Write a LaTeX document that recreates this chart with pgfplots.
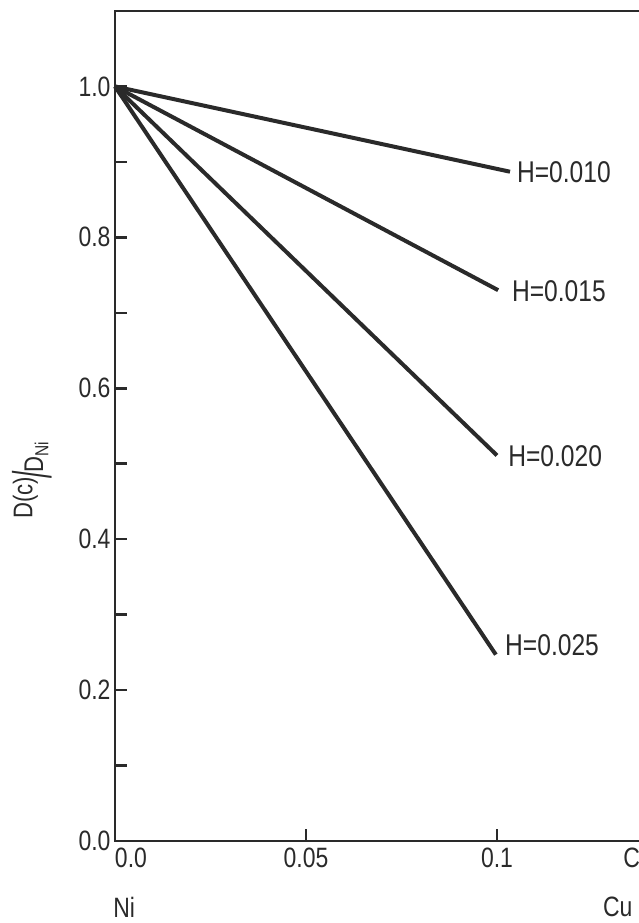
\documentclass[border=0pt]{standalone}
\usepackage{fontspec}
\setmainfont{Liberation Sans}[FakeStretch=0.82]
\usepackage{graphicx}
\usepackage{pgfplots}
\pgfplotsset{compat=1.18}
\definecolor{ink}{HTML}{2A2A2A}
\begin{document}
\begin{tikzpicture}
\useasboundingbox (-115bp,-82bp) rectangle (524bp,841bp);
\begin{axis}[
  scale only axis,
  width=553.9bp, height=830bp,
  xmin=0, xmax=0.145, ymin=0, ymax=1.1,
  axis line style={ink, line width=2.8bp},
  tick style={ink, line width=2.5bp},
  tick align=inside, tick pos=left,
  major tick length=12bp, minor tick length=12bp,
  xtick={0,0.05,0.1},
  xticklabels={\hphantom{0.0}0.0,0.05,0.1},
  ytick={0,0.2,0.4,0.6,0.8,1.0},
  yticklabels={0.0,0.2,0.4,0.6,0.8,1.0},
  minor ytick={0.1,0.3,0.5,0.7,0.9},
  tick label style={font=\fontsize{28bp}{30bp}\selectfont, text=ink},
  xticklabel style={yshift=-3bp},
  yticklabel style={xshift=-1bp},
  ylabel={\fontsize{27bp}{28bp}\selectfont\raisebox{0.4em}{D(c)}\kern-0.05em\raisebox{-0.3em}{\scalebox{1.2}[2.0]{/}}\kern-0.05em D\textsubscript{Ni}},
  ylabel style={at={(axis description cs:-0.150,0.435)}, anchor=center, text=ink},
  clip=false,
]
\addplot[ink, line width=4bp] coordinates {(0,1.0) (0.1034,0.887)};
\addplot[ink, line width=4bp] coordinates {(0,1.0) (0.1003,0.730)};
\addplot[ink, line width=4bp] coordinates {(0,1.0) (0.1000,0.511)};
\addplot[ink, line width=4bp] coordinates {(0,1.0) (0.0997,0.247)};
\begin{scope}[every node/.style={anchor=west, inner sep=0, text=ink, font=\fontsize{30bp}{32bp}\selectfont}]
\node at (axis cs:0.1052,0.887) {H=0.010};
\node at (axis cs:0.1039,0.729) {H=0.015};
\node at (axis cs:0.1029,0.510) {H=0.020};
\node at (axis cs:0.1021,0.260) {H=0.025};
\end{scope}
\begin{scope}[every node/.style={inner sep=0, text=ink, font=\fontsize{28bp}{30bp}\selectfont}]
\node[anchor=west] at (axis cs:-0.0005,-0.0875) {Ni};
\node[anchor=west] at (axis cs:0.1277,-0.0875) {Cu};
\node[anchor=west] at (axis cs:0.1330,-0.0225) {C};
\end{scope}
\end{axis}
\end{tikzpicture}
\end{document}
